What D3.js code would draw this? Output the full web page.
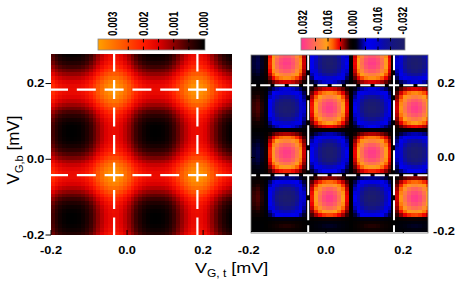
<!DOCTYPE html>
<meta charset="utf-8">
<svg id="chart" width="463" height="283"></svg>
<style>
body { margin: 0; background: #fff; font-family: 'Liberation Sans', Arial, sans-serif; }
svg { display: block; }
.tick-label { font-size: 10.5px; font-weight: bold; }
.cb-label { font-size: 9.8px; font-weight: bold; }
</style>
<script src="https://d3js.org/d3.v7.min.js"></script>
<script>
// ---- data ----
// map samples are 0.01 mV apart; left map = sum of the two line profiles (units 1e-4)
var leftProfileX = [5.2,3.0,1.4,0.5,0.1,0.0,0.1,0.3,1.1,2.5,4.5,7.0,9.8,12.5,14.8,16.4,17.0,16.6,15.2,13.0,
  10.4,7.5,4.9,2.8,1.3,0.4,0.1,0.0,0.1,0.4,1.2,2.6,4.7,7.3,10.1,12.8,15.0,16.5,17.0,16.5,
  15.0,12.8,10.1,7.3,4.7,2.6,1.2,0.4];
var leftProfileY = [2.5,1.1,0.4,0.0,0.0,0.0,0.4,1.1,2.5,4.5,6.9,9.6,12.3,14.6,16.2,16.9,16.8,15.6,13.7,11.2,
  8.5,5.9,3.6,1.9,0.8,0.2,0.0,0.0,0.1,0.6,1.6,3.2,5.4,8.0,10.7,13.2,15.3,16.6,17.0,16.4,
  14.9,12.8,10.1,7.4,4.9,2.8,1.4,0.5];
// right map = peak * profileX * profileY
var rightPeak = 0.032;
var rightProfileX = [-0.05,-0.10,-0.12,-0.08,0.06,0.33,0.58,0.79,0.93,0.99,0.98,0.89,0.73,0.51,0.25,-0.03,
  -0.31,-0.56,-0.77,-0.92,-0.99,-0.99,-0.91,-0.75,-0.54,-0.28,0.00,0.28,0.54,0.75,0.91,0.99,
  0.99,0.92,0.77,0.56,0.31,0.03,-0.25,-0.51,-0.73,-0.89,-0.98,-1.00,-0.93,-0.79,-0.59];
var rightProfileY = [0.05,0.08,0.05,-0.06,-0.37,-0.59,-0.78,-0.91,-0.99,-1.00,-0.94,-0.82,-0.64,-0.43,-0.18,0.08,
  0.33,0.56,0.75,0.90,0.98,1.00,0.95,0.84,0.67,0.46,0.22,-0.04,-0.29,-0.53,-0.73,-0.88,
  -0.97,-1.00,-0.96,-0.86,-0.70,-0.49,-0.26,0.00,0.26,0.50,0.70,0.86,0.96,1.00,0.97,0.88];

var leftLinesX = [-0.034, 0.185], leftLinesY = [-0.042, 0.184];
var rightLinesX = [-0.046, 0.176], rightLinesY = [-0.048, 0.195];

var axisTicks = [-0.2, 0.0, 0.2];
var leftBarTicks = [0.003, 0.002, 0.001, 0.000];
var leftBarMinor = [0.0025, 0.002, 0.0015, 0.001, 0.0005];
var rightBarTicks = [0.032, 0.016, 0.000, -0.016, -0.032];
var rightBarMinor = [0.024, 0.016, 0.008, -0.008, -0.016, -0.024];

// colour maps
var leftStops = [0, 0.0005, 0.001, 0.0015, 0.002, 0.0025, 0.003, 0.0035];
var leftColors = ['#000000','#3e0000','#900000','#de0000','#ff1a00','#ff4800','#ff7400','#ffa000'];
var rightStops = [-0.032,-0.026,-0.020,-0.014,-0.009,-0.005,-0.002,0,0.002,0.005,0.009,0.013,0.017,0.024,0.032];
var rightColors = ['#1c1c6c','#16167e','#0c0ca4','#0000e0','#0000f0','#000070','#000010','#000000',
  '#100000','#700000','#f00000','#ff6000','#ffa018','#ff7050','#ff3a8a'];

// ---- scales ----
var step = 0.01;
var leftX = d3.scaleLinear().domain([-0.2, 0.276]).range([51, 232]);
var leftY = d3.scaleLinear().domain([-0.2, 0.278]).range([235, 54]);
var rightX = d3.scaleLinear().domain([-0.194, 0.264]).range([251, 428]);
var rightY = d3.scaleLinear().domain([-0.204, 0.277]).range([233, 55]);
var leftColor = d3.scaleLinear().domain(leftStops).range(leftColors).clamp(true);
var rightColor = d3.scaleLinear().domain(rightStops).range(rightColors).clamp(true);
var leftBar = d3.scaleLinear().domain([0.0035, 0]).range([98, 204]);
var rightBar = d3.scaleLinear().domain([0.032, -0.032]).range([303, 403]);

var svg = d3.select('#chart');
var defs = svg.append('defs');
var fmt = function(v){ return d3.format('.1f')(v).replace('\u2212', '-'); };
var fmt3 = function(v){ return d3.format('.3f')(v).replace('\u2212', '-'); };

function drawMap(id, px, py, combine, xs, ys, cmap) {
  var x0 = xs.range()[0], x1 = xs.range()[1], y0 = ys.range()[1], y1 = ys.range()[0];
  defs.append('clipPath').attr('id', id).append('rect')
    .attr('x', x0).attr('y', y0).attr('width', x1 - x0).attr('height', y1 - y0);
  var cells = [];
  py.forEach(function(b, j){
    px.forEach(function(a, i){
      cells.push({x: -0.195 + i*step, y: -0.195 + j*step, v: combine(a, b)});
    });
  });
  var g = svg.append('g').attr('clip-path', 'url(#' + id + ')');
  g.selectAll('rect').data(cells).join('rect')
    .attr('x', function(d){ return xs(d.x - step/2) - 0.3; })
    .attr('y', function(d){ return ys(d.y + step/2) - 0.3; })
    .attr('width', xs(step) - xs(0) + 0.6)
    .attr('height', ys(0) - ys(step) + 0.6)
    .attr('fill', function(d){ return cmap(d.v); })
    .attr('shape-rendering', 'crispEdges');
  return g;
}

function dashLines(g, xs, ys, linesX, linesY, dashV, dashH, w) {
  var top = ys.range()[1], bottom = ys.range()[0], left = xs.range()[0], right = xs.range()[1];
  // centre a dash on the first crossing
  function offset(dist, dash) { var p = dash[0] + dash[1]; return p - (((dist - dash[0]/2) % p) + p) % p; }
  g.selectAll('line.v').data(linesX).join('line').attr('class', 'v')
    .attr('x1', function(d){ return xs(d); }).attr('x2', function(d){ return xs(d); })
    .attr('y1', top).attr('y2', bottom)
    .attr('stroke', '#fff').attr('stroke-width', w)
    .attr('stroke-dasharray', dashV.join(','))
    .attr('stroke-dashoffset', offset(ys(linesY[1]) - top, dashV));
  g.selectAll('line.h').data(linesY).join('line').attr('class', 'h')
    .attr('y1', function(d){ return ys(d); }).attr('y2', function(d){ return ys(d); })
    .attr('x1', left).attr('x2', right)
    .attr('stroke', '#fff').attr('stroke-width', w)
    .attr('stroke-dasharray', dashH.join(','))
    .attr('stroke-dashoffset', offset(xs(linesX[0]) - left, dashH));
}

// ---- left map ----
var gl = drawMap('clipL', leftProfileX, leftProfileY, function(a, b){ return (a + b) * 1e-4; }, leftX, leftY, leftColor);
dashLines(gl, leftX, leftY, leftLinesX, leftLinesY, [19, 8.5], [19, 8.8], 2.2);

// ---- right map ----
var gr = drawMap('clipR', rightProfileX, rightProfileY, function(a, b){ return rightPeak * a * b; }, rightX, rightY, rightColor);
dashLines(gr, rightX, rightY, rightLinesX, rightLinesY, [20, 5], [10.3, 4], 2);
svg.append('rect').attr('x', 251).attr('y', 55).attr('width', 177).attr('height', 178)
  .attr('fill', 'none').attr('stroke', '#777').attr('stroke-width', 0.8);

// ---- axes ----
var ax = svg.append('g').attr('class', 'axes');
function hLabel(x, y, txt, anchor) {
  ax.append('text').attr('class', 'tick-label')
    .attr('transform', 'translate(' + x + ',' + y + ') scale(1.22,1)')
    .attr('text-anchor', anchor).text(txt);
}
axisTicks.forEach(function(v){
  // left panel
  hLabel(leftX(v), 253.5, fmt(v), 'middle');
  hLabel(44.5, leftY(v) + 3.8, fmt(v), 'end');
  ax.append('line').attr('x1', leftX(v)).attr('x2', leftX(v)).attr('y1', 235).attr('y2', 230).attr('stroke', '#000');
  ax.append('line').attr('x1', 45.5).attr('x2', 51).attr('y1', leftY(v)).attr('y2', leftY(v)).attr('stroke', '#000');
  // right panel
  hLabel(rightX(v), 253.5, fmt(v), 'middle');
  hLabel(455, rightY(v) + 3.8, fmt(v), 'end');
  if (v > -0.2) ax.append('line').attr('x1', rightX(v)).attr('x2', rightX(v)).attr('y1', 233).attr('y2', 229).attr('stroke', '#000');
  ax.append('line').attr('x1', 251).attr('x2', 255).attr('y1', rightY(v)).attr('y2', rightY(v)).attr('stroke', '#000');
});

// axis titles
var tx = svg.append('text').attr('transform', 'translate(195,273) scale(1.2,1)');
tx.append('tspan').attr('font-size', 15).text('V');
tx.append('tspan').attr('font-size', 10).attr('dy', 4).text('G, t');
tx.append('tspan').attr('font-size', 15).attr('dy', -4).text(' [mV]');
var ty = svg.append('text').attr('transform', 'translate(19,150) rotate(-90)').attr('text-anchor', 'middle');
ty.append('tspan').attr('font-size', 17).text('V');
ty.append('tspan').attr('font-size', 11).attr('dy', 4).text('G,b');
ty.append('tspan').attr('font-size', 17).attr('dy', -4).text(' [mV]');

// ---- colour bars ----
function colorBar(id, scale, stops, colors, x0, x1, y0, y1, ticks, minor, labelY) {
  var grad = defs.append('linearGradient').attr('id', id).attr('x1', 0).attr('x2', 1).attr('y1', 0).attr('y2', 0);
  var gs = stops.map(function(s, i){ return {o: (scale(s) - x0) / (x1 - x0), c: colors[i]}; })
    .sort(function(a, b){ return a.o - b.o; });
  grad.selectAll('stop').data(gs).join('stop')
    .attr('offset', function(d){ return Math.max(0, Math.min(1, d.o)); })
    .attr('stop-color', function(d){ return d.c; });
  svg.append('rect').attr('x', x0).attr('y', y0).attr('width', x1 - x0).attr('height', y1 - y0)
    .attr('fill', 'url(#' + id + ')').attr('stroke', '#888').attr('stroke-width', 0.8);
  minor.forEach(function(v){
    svg.append('line').attr('x1', scale(v)).attr('x2', scale(v)).attr('y1', y0).attr('y2', y0 + 3.5).attr('stroke', '#000');
    svg.append('line').attr('x1', scale(v)).attr('x2', scale(v)).attr('y1', y1 - 3.5).attr('y2', y1).attr('stroke', '#000');
  });
  ticks.forEach(function(v){
    svg.append('text').attr('class', 'cb-label')
      .attr('transform', 'translate(' + scale(v) + ',' + labelY + ') scale(1.22,1) rotate(-90)')
      .attr('text-anchor', 'start').attr('dy', '0.36em').text(fmt3(v));
  });
}
colorBar('gradL', leftBar, leftStops, leftColors, 98, 205, 39, 50, leftBarTicks, leftBarMinor, 36);
colorBar('gradR', rightBar, rightStops, rightColors, 301, 405, 38, 50, rightBarTicks, rightBarMinor, 34.5);
</script>
